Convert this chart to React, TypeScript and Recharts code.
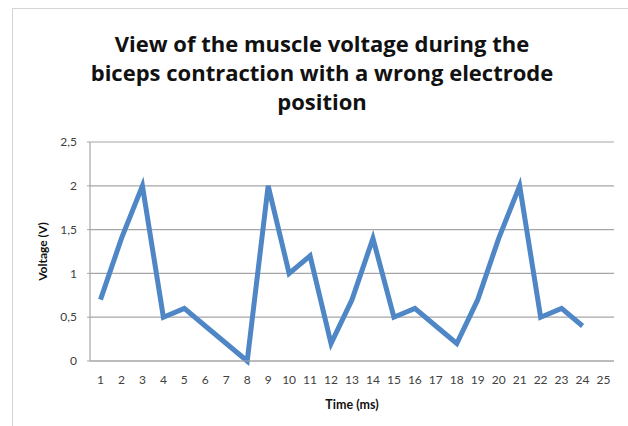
import { LineChart, Line, XAxis, YAxis, CartesianGrid, Label } from "recharts";

const times = [
  "1", "2", "3", "4", "5", "6", "7", "8", "9", "10", "11", "12", "13",
  "14", "15", "16", "17", "18", "19", "20", "21", "22", "23", "24", "25",
];
const voltages: (number | null)[] = [
  0.7, 1.4, 2.0, 0.5, 0.6, 0.4, 0.2, 0.0, 2.0, 1.0, 1.2, 0.2, 0.7,
  1.4, 0.5, 0.6, 0.4, 0.2, 0.7, 1.4, 2.0, 0.5, 0.6, 0.4, null,
];
const yTicks = [0, 0.5, 1, 1.5, 2, 2.5];

const titleLines = [
  "View of the muscle voltage during the",
  "biceps contraction with a wrong electrode",
  "position",
];

const data = times.map((t, i) => ({ time: t, voltage: voltages[i] }));

const font = "Lato, 'Open Sans', sans-serif";
const titleFont = "'Open Sans', Lato, sans-serif";

export default function App() {
  return (
    <div
      style={{
        position: "absolute",
        left: 0,
        top: 0,
        width: 628,
        height: 426,
        background: "#fff",
        overflow: "hidden",
        fontFamily: font,
      }}
    >
      <div
        style={{
          position: "absolute",
          left: 12,
          top: 8,
          width: 700,
          height: 500,
          borderLeft: "1px solid #d4d4d4",
          borderTop: "1px solid #d4d4d4",
        }}
      />
      <div
        style={{
          position: "absolute",
          left: 0,
          top: 29,
          width: 644,
          textAlign: "center",
          fontWeight: 700,
          fontSize: 22,
          lineHeight: "29px",
          color: "#111",
          fontFamily: titleFont,
        }}
      >
        {titleLines.map((l) => (
          <div key={l}>{l}</div>
        ))}
      </div>
      <LineChart
        width={628}
        height={426}
        data={data}
        margin={{ top: 142, right: 14, bottom: 40, left: 40 }}
        style={{ position: "absolute", left: 0, top: 0 }}
      >
        <CartesianGrid vertical={false} stroke="#a6a6a6" strokeWidth={1.2} />
        <XAxis
          dataKey="time"
          height={25}
          padding={{ left: 10.5, right: 10.5 }}
          axisLine={{ stroke: "#a6a6a6", strokeWidth: 1.2 }}
          tickLine={false}
          tickMargin={8}
          interval={0}
          tick={{ fill: "#404040", fontSize: 12, fontFamily: font }}
        >
          <Label
            value="Time (ms)"
            position="bottom"
            offset={14}
            style={{ fontWeight: 700, fontSize: 12.5, fill: "#111", fontFamily: font }}
          />
        </XAxis>
        <YAxis
          width={50}
          domain={[0, 2.5]}
          ticks={yTicks}
          interval={0}
          axisLine={{ stroke: "#a6a6a6", strokeWidth: 1.2 }}
          tickLine={{ stroke: "#a6a6a6" }}
          tickSize={3}
          tickMargin={10}
          tickFormatter={(v: number) => String(v).replace(".", ",")}
          tick={{ fill: "#404040", fontSize: 12, fontFamily: font }}
        >
          <Label
            value="Voltage (V)"
            angle={-90}
            position="insideLeft"
            offset={3}
            style={{ textAnchor: "middle", fontWeight: 700, fontSize: 12, fill: "#111", fontFamily: font }}
          />
        </YAxis>
        <Line
          type="linear"
          dataKey="voltage"
          stroke="#4f86c6"
          strokeWidth={5}
          dot={false}
          activeDot={false}
          isAnimationActive={false}
        />
      </LineChart>
    </div>
  );
}
